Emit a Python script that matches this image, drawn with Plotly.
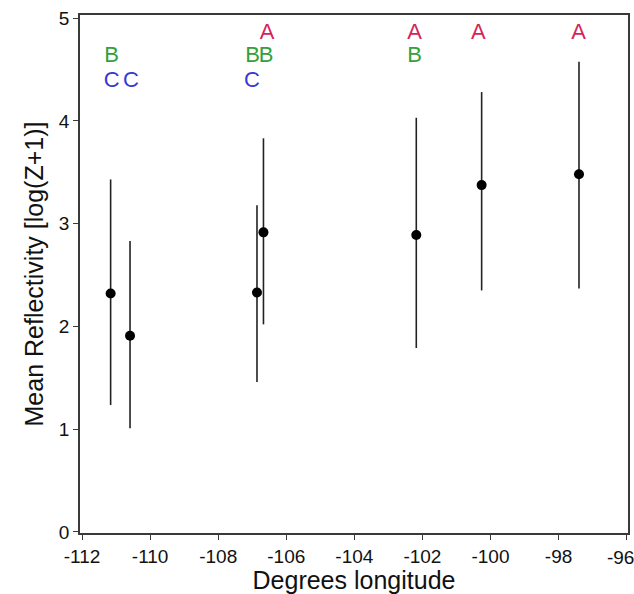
import plotly.graph_objects as go

# Site means (longitude, mean reflectivity) with error bar limits
longitude = [-111.16, -110.59, -106.86, -106.67, -102.18, -100.26, -97.40]
mean_refl = [2.32, 1.91, 2.33, 2.915, 2.89, 3.375, 3.48]
upper = [3.43, 2.83, 3.18, 3.83, 4.03, 4.28, 4.575]
lower = [1.235, 1.01, 1.46, 2.02, 1.79, 2.35, 2.37]

# Significance-group letters
letter_text = ["B", "C", "C", "A", "B", "B", "C", "A", "B", "A", "A"]
letter_x = [-111.13, -111.13, -110.56, -106.56, -106.99, -106.59, -107.01,
            -102.23, -102.23, -100.36, -97.41]
letter_y = [4.63, 4.38, 4.38, 4.85, 4.63, 4.63, 4.38, 4.85, 4.63, 4.85, 4.85]
letter_colors = {"A": "#D6245A", "B": "#34A03A", "C": "#3838D4"}

x_ticks = [-112, -110, -108, -106, -104, -102, -100, -98, -96]
x_ticktext = ["-112", "-110", "-108", "-106", "-104", "-102", "-100", "-98", "-96"]
y_ticks = [0, 1, 2, 3, 4, 5]

err_plus = [u - m for u, m in zip(upper, mean_refl)]
err_minus = [m - l for m, l in zip(mean_refl, lower)]

x_range = [-112.06, -95.96]

fig = go.Figure()
fig.add_trace(go.Scatter(
    x=longitude, y=mean_refl, mode="markers",
    marker=dict(color="black", size=10),
    error_y=dict(type="data", symmetric=False, array=err_plus, arrayminus=err_minus,
                 color="#222222", thickness=1.6, width=0),
    showlegend=False, hoverinfo="skip", cliponaxis=False))

for t in ["A", "B", "C"]:
    xs = [x for x, s in zip(letter_x, letter_text) if s == t]
    ys = [y for y, s in zip(letter_y, letter_text) if s == t]
    fig.add_trace(go.Scatter(
        x=xs, y=ys, mode="text", text=[t] * len(xs),
        textfont=dict(color=letter_colors[t], size=22, family="Liberation Sans, Arial"),
        textposition="middle center", showlegend=False, hoverinfo="skip"))

# invisible trace to anchor the overlay axis that carries the edge label
fig.add_trace(go.Scatter(x=[x_ticks[-1]], y=[mean_refl[0]], xaxis="x2", mode="markers",
                         marker=dict(opacity=0), showlegend=False, hoverinfo="skip"))

tickfont = dict(size=19, color="#111111", family="Liberation Sans, Arial")
axis_common = dict(
    showgrid=False, zeroline=False, showline=True, linecolor="#3a3a3a", linewidth=1.5,
    mirror=True, ticks="outside", ticklen=5, tickwidth=1.2, tickcolor="#3a3a3a",
    tickfont=tickfont,
)

fig.update_layout(
    width=634, height=594,
    margin=dict(l=80, r=6, t=15, b=61, autoexpand=False),
    plot_bgcolor="white", paper_bgcolor="white",
    font=dict(family="Liberation Sans, Arial", color="#111111"),
    xaxis=dict(range=x_range, tickvals=x_ticks, ticktext=x_ticktext[:-1] + [""],
               title=dict(text="Degrees longitude", font=dict(size=25), standoff=6),
               **axis_common),
    xaxis2=dict(range=x_range, overlaying="x", side="bottom", anchor="y",
                tickvals=[x_ticks[-1]], ticktext=[x_ticktext[-1]],
                ticklabelshift=-6, ticklabeloverflow="allow",
                showgrid=False, zeroline=False, showline=False, ticks="",
                tickfont=tickfont, ticklabelstandoff=11),
    yaxis=dict(range=[-0.01, 5.03], tickvals=y_ticks,
               title=dict(text="Mean Reflectivity [log(Z+1)]", font=dict(size=25), standoff=8),
               **axis_common),
)

fig.write_html("out.html", config={"displayModeBar": False},
               post_script="document.body.style.margin='0px';document.body.style.overflow='hidden';")
